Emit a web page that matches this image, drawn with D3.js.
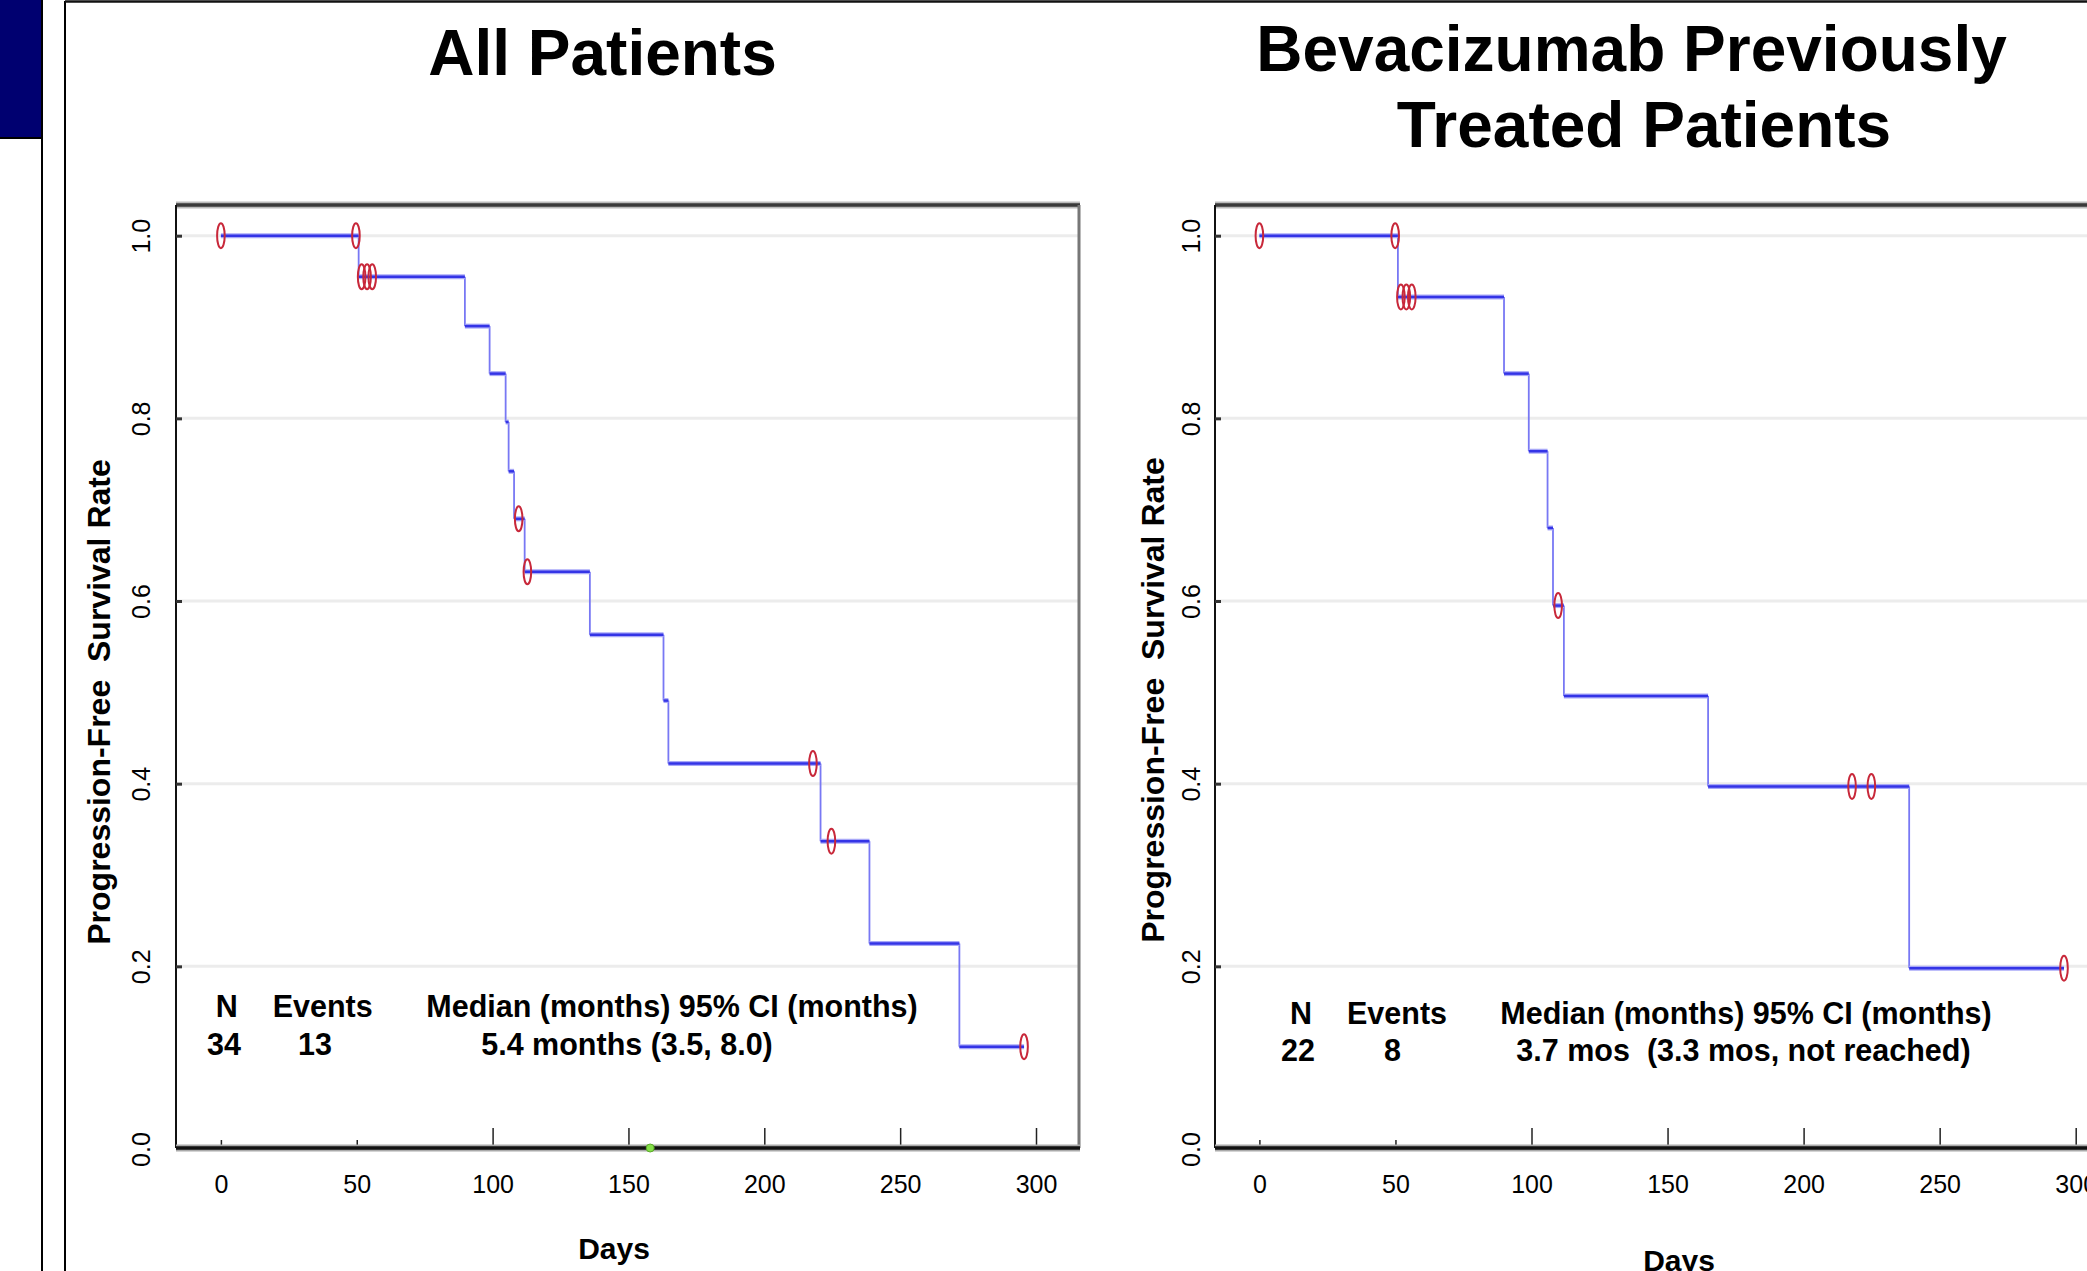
<!DOCTYPE html>
<html>
<head>
<meta charset="utf-8">
<script src="https://cdn.jsdelivr.net/npm/d3@7"></script>
<style>
  body { margin: 0; background: #fff; }
  svg { display: block; font-family: "Liberation Sans", Arial, sans-serif; }
</style>
</head>
<body>
<svg id="chart" width="2087" height="1271"></svg>
<script>
// ---- data ----
const dayTicks   = [0, 50, 100, 150, 200, 250, 300];
const rateTicks  = [0, 0.2, 0.4, 0.6, 0.8, 1.0];
const statsHeader = ["N", "Events", "Median (months) 95% CI (months)"];

// All patients
const stepDays1   = [0, 50.7, 89.8, 98.9, 104.8, 105.9, 107.9, 111.8, 135.8, 162.9, 164.7, 220.7, 238.7, 271.8];
const survival1   = [1, 0.955, 0.901, 0.849, 0.796, 0.742, 0.690, 0.632, 0.563, 0.491, 0.422, 0.337, 0.225, 0.112];
const censorDays1 = [0, 49.7, 51.8, 53.8, 55.7, 109.6, 112.8, 217.9, 224.7, 295.6];
const endDay1     = 295.6;
const greenDays1  = [158];
const stats1      = ["34", "13", "5.4 months (3.5, 8.0)"];

// Bevacizumab previously treated
const stepDays2   = [0, 50.9, 89.9, 99.0, 105.9, 107.9, 111.9, 164.9, 238.8];
const survival2   = [1, 0.933, 0.849, 0.764, 0.680, 0.595, 0.496, 0.397, 0.198];
const censorDays2 = [0, 49.9, 52.0, 54.0, 56.0, 109.8, 217.8, 224.9, 295.7];
const endDay2     = 295.7;
const greenDays2  = [];
const stats2      = ["22", "8", "3.7 mos  (3.3 mos, not reached)"];

const svg = d3.select("#chart");

// slide decorations
svg.append("rect").attr("x", 0).attr("y", 0).attr("width", 42).attr("height", 138).attr("fill", "#000070");
svg.append("line").attr("x1", 0).attr("x2", 42).attr("y1", 138).attr("y2", 138).attr("stroke", "#000").attr("stroke-width", 2);
svg.append("line").attr("x1", 42).attr("x2", 42).attr("y1", 0).attr("y2", 1271).attr("stroke", "#000").attr("stroke-width", 2);
svg.append("line").attr("x1", 65).attr("x2", 65).attr("y1", 1).attr("y2", 1271).attr("stroke", "#000").attr("stroke-width", 2);
svg.append("line").attr("x1", 65).attr("x2", 2087).attr("y1", 1.5).attr("y2", 1.5).attr("stroke", "#111").attr("stroke-width", 2.5);

const y = d3.scaleLinear().domain([0, 1]).range([1149, 235.7]);
const boxTop = 205, boxBottom = 1148;

const panels = [
  {
    title: ["All Patients"], titleX: [602.5], titleY: [75],
    steps: stepDays1, surv: survival1, censor: censorDays1, end: endDay1, green: greenDays1,
    stats: stats1,
    x0: 220.9, x300: 1036, boxL: 176, boxR: 1080, rightBorder: true,
    yLabX: 141, yTitleX: 110, yTitleY: 702, daysX: 614, daysY: 1259,
    headX: [226.7, 322.7, 672], valX: [224, 315, 627], rowY: [1017, 1055]
  },
  {
    title: ["Bevacizumab Previously", "Treated Patients"], titleX: [1631.5, 1644], titleY: [71, 147],
    steps: stepDays2, surv: survival2, censor: censorDays2, end: endDay2, green: greenDays2,
    stats: stats2,
    x0: 1259.4, x300: 2075.7, boxL: 1215, boxR: 2110, rightBorder: false,
    yLabX: 1191, yTitleX: 1164, yTitleY: 700, daysX: 1679, daysY: 1271,
    headX: [1301, 1397, 1746], valX: [1298, 1392.6, 1743.5], rowY: [1024, 1061]
  }
];

panels.forEach(p => {
  const x = d3.scaleLinear().domain([0, 300]).range([p.x0, p.x300]);
  const g = svg.append("g");

  // title
  p.title.forEach((t, i) => {
    g.append("text").attr("x", p.titleX[i]).attr("y", p.titleY[i])
      .attr("text-anchor", "middle").attr("font-size", 64).attr("font-weight", "bold")
      .text(t);
  });

  // gridlines
  g.selectAll(".grid").data(rateTicks.filter(d => d > 0)).join("line")
    .attr("x1", p.boxL).attr("x2", p.boxR)
    .attr("y1", d => y(d)).attr("y2", d => y(d))
    .attr("stroke", "#ececec").attr("stroke-width", 3);

  // box
  g.append("line").attr("x1", p.boxL).attr("x2", p.boxR).attr("y1", boxTop).attr("y2", boxTop)
    .attr("stroke", "#bbb").attr("stroke-width", 7);
  g.append("line").attr("x1", p.boxL).attr("x2", p.boxR).attr("y1", boxTop).attr("y2", boxTop)
    .attr("stroke", "#3a3a3a").attr("stroke-width", 3.5);
  g.append("line").attr("x1", p.boxL).attr("x2", p.boxL).attr("y1", boxTop).attr("y2", boxBottom)
    .attr("stroke", "#111").attr("stroke-width", 2);
  if (p.rightBorder) {
    g.append("line").attr("x1", p.boxR - 1).attr("x2", p.boxR - 1).attr("y1", boxTop).attr("y2", boxBottom)
      .attr("stroke", "#777").attr("stroke-width", 3);
  }

  // y axis
  const yAxis = g.append("g").attr("transform", `translate(${p.boxL},0)`)
    .call(d3.axisLeft(y).tickValues(rateTicks).tickFormat(d3.format(".1f")).tickSize(-6));
  yAxis.select(".domain").remove();
  yAxis.selectAll(".tick line").attr("stroke", "#333").attr("stroke-width", 3);
  yAxis.selectAll(".tick text")
    .attr("x", 0).attr("dy", null)
    .attr("transform", `translate(${p.yLabX - p.boxL},0) rotate(-90)`)
    .attr("text-anchor", "middle").attr("dominant-baseline", "central")
    .attr("font-size", 25).attr("font-family", "Liberation Sans, Arial, sans-serif").attr("fill", "#000");

  // x axis
  const xAxis = g.append("g").attr("transform", `translate(0,${boxBottom})`)
    .call(d3.axisBottom(x).tickValues(dayTicks).tickSize(-8).tickPadding(27));
  xAxis.select(".domain").remove();
  xAxis.selectAll(".tick line").attr("stroke", "#222").attr("stroke-width", 1.5)
    .attr("y2", d => d >= 100 ? -20 : -8);
  xAxis.selectAll(".tick text").attr("font-size", 25)
    .attr("font-family", "Liberation Sans, Arial, sans-serif").attr("fill", "#000");

  g.append("line").attr("x1", p.boxL).attr("x2", p.boxR).attr("y1", boxBottom).attr("y2", boxBottom)
    .attr("stroke", "#aaa").attr("stroke-width", 7);
  g.append("line").attr("x1", p.boxL).attr("x2", p.boxR).attr("y1", boxBottom).attr("y2", boxBottom)
    .attr("stroke", "#111").attr("stroke-width", 3.5);

  // axis titles
  g.append("text").attr("x", p.daysX).attr("y", p.daysY)
    .attr("text-anchor", "middle").attr("font-size", 30).attr("font-weight", "bold").text("Days");
  g.append("text")
    .attr("transform", `translate(${p.yTitleX},${p.yTitleY}) rotate(-90)`)
    .attr("text-anchor", "middle").attr("font-size", 32).attr("font-weight", "bold")
    .attr("xml:space", "preserve").style("white-space", "pre")
    .text("Progression-Free  Survival Rate");

  // KM curve
  const horiz = p.steps.map((d, i) => ({
    x1: d, x2: i < p.steps.length - 1 ? p.steps[i + 1] : p.end, s: p.surv[i]
  }));
  const vert = p.steps.slice(1).map((d, i) => ({ x: d, s1: p.surv[i], s2: p.surv[i + 1] }));

  g.selectAll(".v").data(vert).join("line")
    .attr("x1", d => x(d.x)).attr("x2", d => x(d.x))
    .attr("y1", d => y(d.s1)).attr("y2", d => y(d.s2))
    .attr("stroke", "#7878f4").attr("stroke-width", 1.8);
  g.selectAll(".hh").data(horiz).join("line")
    .attr("x1", d => x(d.x1)).attr("x2", d => x(d.x2))
    .attr("y1", d => y(d.s)).attr("y2", d => y(d.s))
    .attr("stroke", "#a8a8f8").attr("stroke-width", 5);
  g.selectAll(".h").data(horiz).join("line")
    .attr("x1", d => x(d.x1)).attr("x2", d => x(d.x2))
    .attr("y1", d => y(d.s)).attr("y2", d => y(d.s))
    .attr("stroke", "#3434e6").attr("stroke-width", 2.5);

  const survAt = t => p.surv[Math.max(0, d3.bisectRight(p.steps, t) - 1)];
  g.selectAll(".c").data(p.censor).join("ellipse")
    .attr("cx", d => x(d)).attr("cy", d => y(survAt(d)))
    .attr("rx", 3.8).attr("ry", 12.5)
    .attr("fill", "none").attr("stroke", "#c8283a").attr("stroke-width", 2);

  g.selectAll(".gm").data(p.green).join("circle")
    .attr("cx", d => x(d)).attr("cy", boxBottom).attr("r", 4)
    .attr("fill", "#86e04a").attr("stroke", "#5aa82a").attr("stroke-width", 1);

  // stats box
  statsHeader.forEach((t, i) => {
    g.append("text").attr("x", p.headX[i]).attr("y", p.rowY[0])
      .attr("text-anchor", "middle").attr("font-size", 30.5).attr("font-weight", "bold").text(t);
  });
  p.stats.forEach((t, i) => {
    g.append("text").attr("x", p.valX[i]).attr("y", p.rowY[1])
      .attr("text-anchor", "middle").attr("font-size", 30.5).attr("font-weight", "bold")
      .style("white-space", "pre").text(t);
  });
});
</script>
</body>
</html>
